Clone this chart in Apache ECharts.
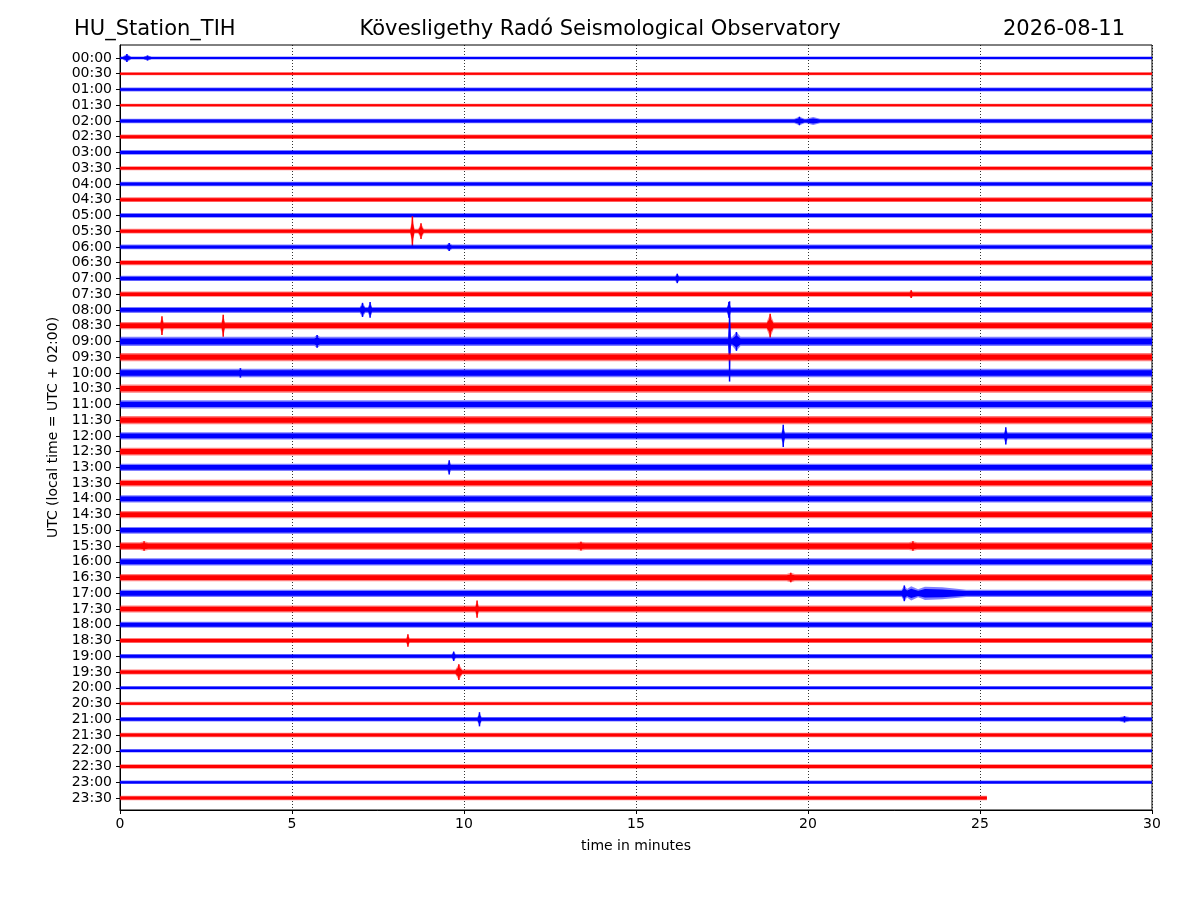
<!DOCTYPE html>
<html>
<head>
<meta charset="utf-8">
<script src="https://cdn.jsdelivr.net/npm/echarts@6/dist/echarts.min.js"></script>
<style>
  html, body { margin: 0; padding: 0; background: #fff; }
  #chart { width: 1200px; height: 900px; }
</style>
</head>
<body>
<div id="chart"></div>
<script>
/* tick labels on the left, one per 30 min trace */
const traceLabels = ['00:00', '00:30', '01:00', '01:30', '02:00', '02:30', '03:00', '03:30',
  '04:00', '04:30', '05:00', '05:30', '06:00', '06:30', '07:00', '07:30',
  '08:00', '08:30', '09:00', '09:30', '10:00', '10:30', '11:00', '11:30',
  '12:00', '12:30', '13:00', '13:30', '14:00', '14:30', '15:00', '15:30',
  '16:00', '16:30', '17:00', '17:30', '18:00', '18:30', '19:00', '19:30',
  '20:00', '20:30', '21:00', '21:30', '22:00', '22:30', '23:00', '23:30'];

/* background noise half-amplitude of each trace (in trace spacings) */
const noiseLevel = [0.10, 0.10, 0.13, 0.10, 0.14, 0.14, 0.15, 0.13,
  0.14, 0.15, 0.15, 0.15, 0.15, 0.16, 0.17, 0.17,
  0.19, 0.23, 0.29, 0.26, 0.27, 0.26, 0.26, 0.26,
  0.23, 0.25, 0.23, 0.21, 0.23, 0.23, 0.22, 0.25,
  0.23, 0.23, 0.23, 0.22, 0.19, 0.16, 0.14, 0.16,
  0.11, 0.11, 0.14, 0.14, 0.11, 0.14, 0.11, 0.14];

/* events: [trace, minute, half-amplitude, half-width in minutes] */
const events = [
  [0, 0.2, 0.25, 0.12], [0, 0.8, 0.16, 0.12],
  [4, 19.75, 0.27, 0.15], [4, 20.15, 0.25, 0.2],
  [11, 8.5, 0.95, 0.06], [11, 8.75, 0.5, 0.08],
  [12, 9.57, 0.25, 0.08],
  [14, 16.2, 0.3, 0.06],
  [15, 23.0, 0.25, 0.05],
  [16, 7.05, 0.45, 0.08], [16, 7.27, 0.5, 0.06], [16, 17.7, 0.5, 0.06],
  [17, 1.22, 0.6, 0.05], [17, 3.0, 0.7, 0.05], [17, 18.9, 0.75, 0.1],
  [18, 5.73, 0.4, 0.08], [18, 17.72, 2.55, 0.04], [18, 17.92, 0.6, 0.12],
  [20, 3.5, 0.3, 0.05],
  [24, 19.28, 0.7, 0.05], [24, 25.75, 0.55, 0.05],
  [26, 9.57, 0.45, 0.05],
  [31, 0.7, 0.3, 0.12], [31, 13.4, 0.28, 0.12], [31, 23.05, 0.3, 0.12],
  [33, 19.5, 0.3, 0.12],
  [34, 22.8, 0.5, 0.08], [34, 23.0, 0.45, 0.3], [34, 23.4, 0.42, 0.5],
  [34, 23.9, 0.38, 0.7],
  [35, 10.38, 0.55, 0.05],
  [37, 8.37, 0.4, 0.05],
  [38, 9.7, 0.3, 0.06],
  [39, 9.85, 0.5, 0.1],
  [42, 10.45, 0.45, 0.06], [42, 29.2, 0.2, 0.15]
];

/* the last trace stops here (minutes) */
const lastTraceEnd = 25.2;

const xTicks = [0, 5, 10, 15, 20, 25, 30];
const traceColors = ['#0000ff', '#ff0000'];

const chart = echarts.init(document.getElementById('chart'));

function ampAt(i, x) {
  let a = noiseLevel[i];
  events.forEach(e => {
    if (e[0] !== i) return;
    let d = Math.abs(x - e[1]);
    if (d < e[3]) a = Math.max(a, e[2] * (1 - d / e[3]));
  });
  return a;
}

function vertices(i) {
  let end = i === traceLabels.length - 1 ? lastTraceEnd : 30;
  let xs = [0, end];
  events.forEach(e => {
    if (e[0] === i) xs.push(e[1] - e[3], e[1], e[1] + e[3]);
  });
  xs = xs.filter(x => x >= 0 && x <= end).sort((a, b) => a - b);
  return xs.map(x => [x, ampAt(i, x)]);
}

function band(api, i, v, k) {
  let up = v.map(p => api.coord([p[0], i - p[1] * k]));
  let down = v.slice().reverse().map(p => api.coord([p[0], i + p[1] * k]));
  return up.concat(down);
}

function renderTrace(params, api) {
  let i = api.value(1);
  let v = vertices(i);
  let color = traceColors[i % 2];
  let children = [
    { type: 'polygon', shape: { points: band(api, i, v, 1) }, style: { fill: color, opacity: 0.5 } },
    { type: 'polygon', shape: { points: band(api, i, v, 0.65) }, style: { fill: color } },
    { type: 'polyline', shape: { points: v.map(p => api.coord([p[0], i])) }, style: { stroke: color, lineWidth: 1.2, fill: null } }
  ];
  /* each event peak as a vertical stroke */
  events.forEach(e => {
    if (e[0] !== i || e[3] > 0.15) return;
    let a = api.coord([e[1], i - e[2]]);
    let b = api.coord([e[1], i + e[2]]);
    children.push({ type: 'line', shape: { x1: a[0], y1: a[1], x2: b[0], y2: b[1] }, style: { stroke: color, lineWidth: 1.5 } });
  });
  return { type: 'group', children: children };
}

const titleStyle = { fontSize: 21, fontWeight: 'normal', color: '#000', fontFamily: 'DejaVu Sans' };

const option = {
  animation: false,
  textStyle: { fontFamily: 'DejaVu Sans' },
  title: [
    { text: 'HU_Station_TIH', left: 74, top: 19, padding: 0, textStyle: titleStyle },
    { text: 'Kövesligethy Radó Seismological Observatory', left: 'center', top: 19, padding: 0, textStyle: titleStyle },
    { text: '2026-08-11', right: 75, top: 19, padding: 0, textStyle: titleStyle }
  ],
  grid: {
    left: 120, right: 48, top: 45, bottom: 90,
    show: true, borderColor: '#000', borderWidth: 1, backgroundColor: 'transparent'
  },
  xAxis: {
    type: 'value', min: 0, max: 30, interval: 5,
    name: 'time in minutes', nameLocation: 'middle', nameGap: 29,
    nameTextStyle: { fontSize: 14, color: '#000' },
    axisLine: { show: true, onZero: false, lineStyle: { color: '#000' } },
    axisTick: { show: true, length: 4, lineStyle: { color: '#000' } },
    axisLabel: { fontSize: 14, color: '#000', margin: 7, formatter: v => xTicks.indexOf(v) >= 0 ? String(v) : '' },
    splitLine: { show: true, lineStyle: { color: '#000', type: [1, 2], width: 0.8 } }
  },
  yAxis: {
    type: 'value', inverse: true, min: -0.826, max: 47.762,
    name: 'UTC (local time = UTC + 02:00)', nameLocation: 'middle', nameGap: 51,
    nameTextStyle: { fontSize: 14, color: '#000' },
    axisLine: { show: true, onZero: false, lineStyle: { color: '#000' } },
    axisTick: { show: true, length: 4, lineStyle: { color: '#000' }, customValues: traceLabels.map((t, i) => i) },
    axisLabel: { fontSize: 14, color: '#000', margin: 8, customValues: traceLabels.map((t, i) => i), formatter: v => traceLabels[Math.round(v)] },
    splitLine: { show: false }
  },
  series: [{
    type: 'custom',
    clip: true,
    renderItem: renderTrace,
    data: traceLabels.map((t, i) => [0, i])
  }]
};

chart.setOption(option);
</script>
</body>
</html>
